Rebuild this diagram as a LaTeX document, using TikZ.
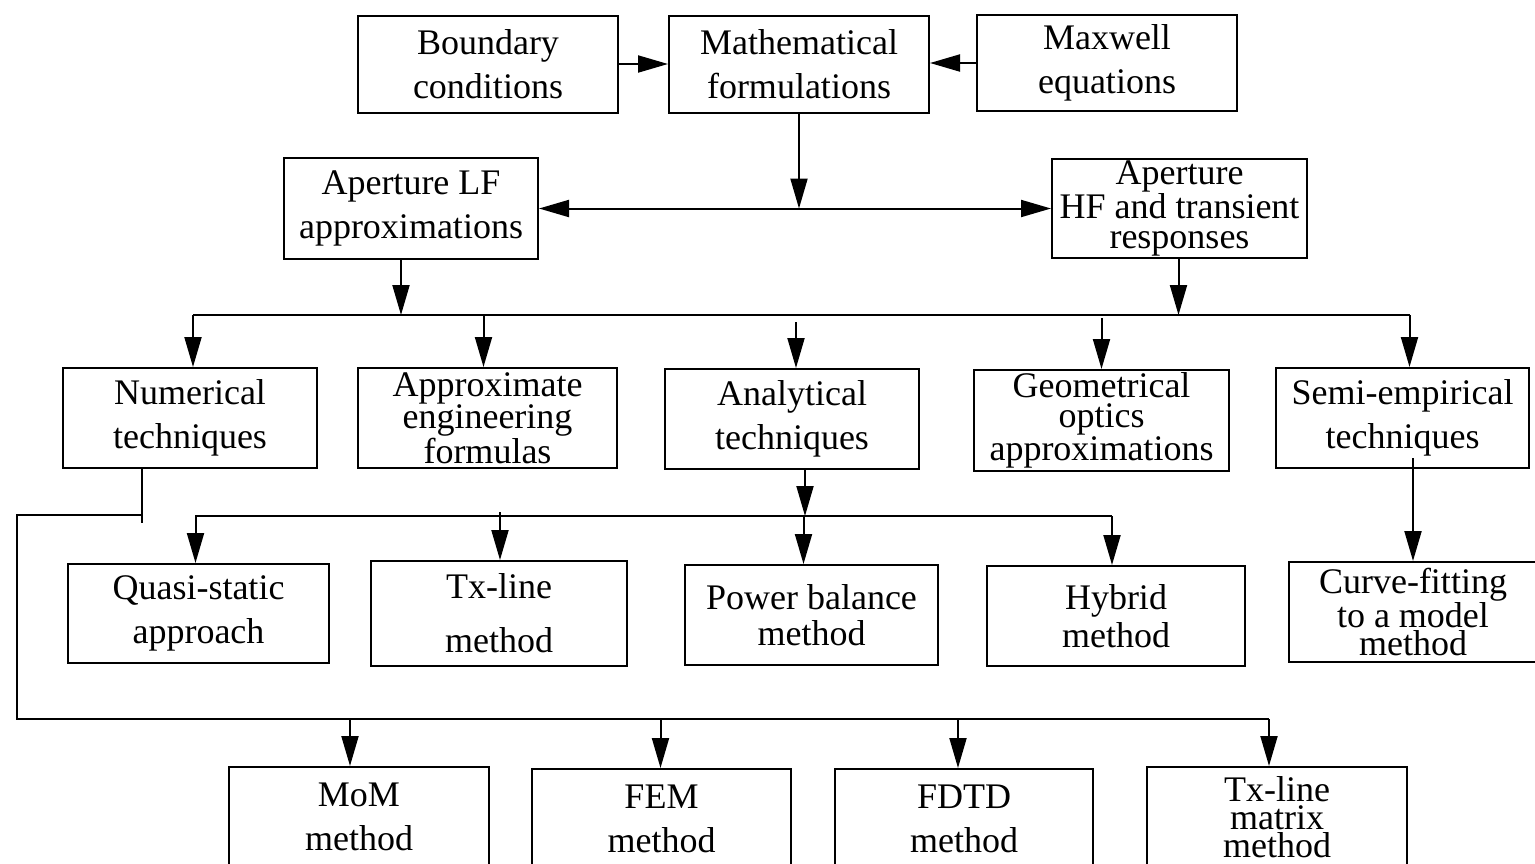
\documentclass[tikz,border=0pt]{standalone}
\usepackage{fontspec}
\setmainfont{Liberation Serif}
\usetikzlibrary{arrows.meta}

\tikzset{
  box/.style={draw, line width=2pt, inner sep=0pt, align=center,
    font=\fontsize{36}{44}\selectfont},
  tight/.style={font=\fontsize{36}{30}\selectfont},
  sz/.style 2 args={minimum width=#1pt, minimum height=#2pt},
  wire/.style={line width=2pt},
  arr/.style={line width=2pt, -{Triangle[length=30pt,width=17pt]}},
  arrr/.style={line width=2pt,
    {Triangle[length=30pt,width=17pt]}-{Triangle[length=30pt,width=17pt]}},
}

\begin{document}
\begin{tikzpicture}[x=1pt,y=-1pt]
    \clip (0,0) rectangle (1535,863);

    % top row
    \node[box,sz={260}{97}] (bc) at (488,64) {Boundary\\conditions};
    \node[box,sz={260}{97}] (math) at (799,64) {Mathematical\\formulations};
    \node[box,sz={260}{96}] (mw) at (1107,63) {Maxwell\\equations};
    \draw[arr] (bc) -- (math);
    \draw[arr] (mw.west) -- (mw.west -| math.east);

    % aperture row
    \node[box,sz={254}{101}] (lf) at (411,208.5) {Aperture LF\\approximations};
    \node[box,tight,sz={255}{99}] (hf) at (1179.5,208.5)
      {Aperture\\HF and transient\\responses};
    \draw[arr] (math.south) -- (math.south |- lf.east);
    \draw[arrr] (lf.east) -- (lf.east -| hf.west);

    % techniques
    \node[box,sz={254}{100}] (num) at (190,418) {Numerical\\techniques};
    \node[box,font=\fontsize{36}{32.5}\selectfont,sz={259}{100}] (appr) at (487.5,418)
      {Approximate\\engineering\\formulas};
    \node[box,sz={254}{100}] (anal) at (792,419) {Analytical\\techniques};
    \node[box,tight,sz={255}{101}] (geo) at (1101.5,420.5)
      {Geometrical\\optics\\approximations};
    \node[box,sz={253}{100}] (semi) at (1402.5,418) {Semi-empirical\\techniques};

    \path (193,315) coordinate (b1) (1410,315) coordinate (b1e);
    \draw[arr] ([xshift=-10pt]lf.south) -- ([xshift=-10pt]lf.south |- b1);
    \draw[arr] ([xshift=-1pt]hf.south) -- ([xshift=-1pt]hf.south |- b1);
    \draw[wire] (b1) -- (b1e);
    \foreach \n/\dx/\gap in {num/3/0, appr/-4/0, anal/4/7, geo/0/3, semi/7/0}
    { \draw[arr] ([xshift=\dx pt,yshift=-\gap pt]\n.north |- b1) -- ([xshift=\dx pt]\n.north); }

    % analytical methods
    \node[box,sz={261}{99}] (qs) at (198.5,613.5) {Quasi-static\\approach};
    \node[box,font=\fontsize{36}{54}\selectfont,sz={256}{105}] (tx) at (499,613.5)
      {Tx-line\\method};
    \node[box,font=\fontsize{36}{36}\selectfont,sz={253}{100}] (pb) at (811.5,615)
      {Power balance\\method};
    \node[box,font=\fontsize{36}{38}\selectfont,sz={258}{100}] (hy) at (1116,616)
      {Hybrid\\method};
    \node[box,font=\fontsize{36}{28}\selectfont,sz={248}{100}] (curve) at (1413,612)
      {Curve-fitting\\to a model\\method};

    \path (195,516) coordinate (b2) (1112,516) coordinate (b2e);
    \draw[arr] ([xshift=13pt]anal.south) -- ([xshift=13pt]anal.south |- b2);
    \draw[wire] (b2) -- (b2e);
    \foreach \n/\dx/\gap in {qs/-3/0, tx/1/-4, pb/-8/0, hy/-4/0}
    { \draw[arr] ([xshift=\dx pt,yshift=-\gap pt]\n.north |- b2) -- ([xshift=\dx pt]\n.north); }
    \draw[arr] ([yshift=11pt]semi.south -| curve.north) -- (curve.north);

    % numerical methods
    \node[box,sz={260}{100}] (mom) at (359,817) {MoM\\method};
    \node[box,sz={259}{100}] (fem) at (661.5,819) {FEM\\method};
    \node[box,sz={258}{100}] (fdtd) at (964,819) {FDTD\\method};
    \node[box,font=\fontsize{36}{28}\selectfont,sz={260}{100}] (tlm) at (1277,817)
      {Tx-line\\matrix\\method};

    \path (142,515) coordinate (n1) (17,515) coordinate (n2)
      (17,719) coordinate (n3) (1269,719) coordinate (n4);
    \draw[wire] ([xshift=-48pt]num.south) -- ++(0,54);
    \draw[wire] (n1) -- (n2) -- (n3) -- (n4);
    \foreach \n/\dx in {mom/-9, fem/-1, fdtd/-6, tlm/-8}
    { \draw[arr] ([xshift=\dx pt]\n.north |- n4) -- ([xshift=\dx pt]\n.north); }

  \end{tikzpicture}
\end{document}
